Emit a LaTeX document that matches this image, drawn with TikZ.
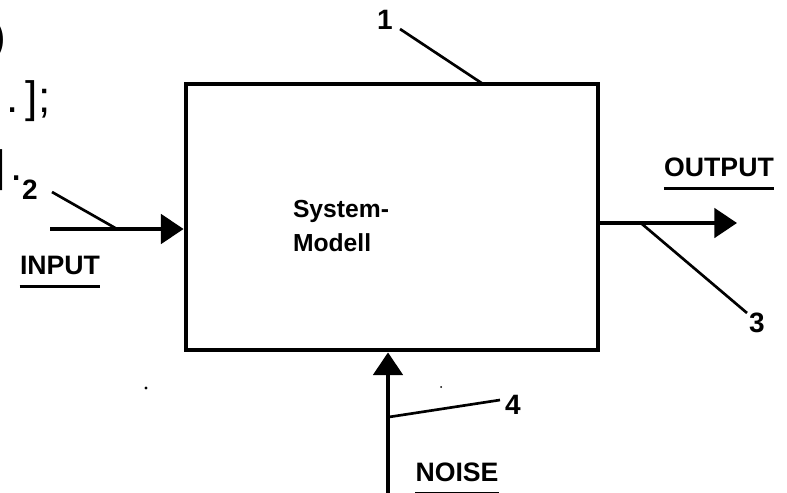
\documentclass[tikz,border=0pt]{standalone}
\usepackage{fontspec}
\setmainfont{Liberation Sans}
\usetikzlibrary{arrows.meta}
\begin{document}
\begin{tikzpicture}[x=0.75pt,y=-0.75pt,
  lbl/.style={font=\bfseries\fontsize{20}{22}\selectfont, inner sep=0pt},
  num/.style={font=\bfseries\fontsize{21}{22}\selectfont, inner sep=0pt},
  frag/.style={font=\fontsize{33}{35}\selectfont, inner sep=0pt},
  flow/.style={line width=3pt, -{Triangle[length=17pt,width=22pt]}},
  leader/.style={line width=2pt},
  uline/.style={line width=2pt},
  speck/.style={fill=black}]
\useasboundingbox (0,0) rectangle (787,492);
% main block
\node[draw, line width=3.6pt, inner sep=0pt, minimum width=309pt, minimum height=199.5pt] (sys) at (392,217) {};
\node[font=\bfseries\fontsize{18.5}{25}\selectfont, align=left, inner sep=0pt] (txt) at (341,226) {System-\\Modell};
% labels
\node[num] (n1) at (385,20) {1};
\node[num] (n2) at (30,190) {2};
\node[num] (n3) at (757,323) {3};
\node[num] (n4) at (513,405) {4};
\node[lbl] (inp) at (60,265) {INPUT};
\node[lbl] (outp) at (719,167) {OUTPUT};
\node[lbl] (noise) at (457,472) {NOISE};
\draw[uline] ([yshift=-9pt]inp.south west) -- ([yshift=-9pt]inp.south east);
\draw[uline] ([yshift=-9pt]outp.south west) -- ([yshift=-9pt]outp.south east);
\draw[uline] ([yshift=-9pt]noise.south west) -- ([yshift=-9pt]noise.south east);
% flows
\coordinate (inS) at (50,229);
\coordinate (outE) at (737,223);
\coordinate (nS) at (388,496);
\draw[flow] (inS) -- (sys.west |- inS);
\draw[flow] (sys.east |- outE) -- (outE);
\draw[flow] (nS) -- (sys.south -| nS);
% leaders
\coordinate (l1a) at (400,29);
\coordinate (l1b) at (483,84);
\coordinate (l2a) at (52,192);
\coordinate (l2b) at (117,229);
\coordinate (l3a) at (642,224);
\coordinate (l3b) at (747,313);
\coordinate (l4a) at (389,417);
\coordinate (l4b) at (500,400);
\draw[leader] (l1a) -- (l1b);
\draw[leader] (l2a) -- (l2b);
\draw[leader] (l3a) -- (l3b);
\draw[leader] (l4a) -- (l4b);
% fragments at left edge
\node[frag, anchor=east] (f1) at (6,40) {)};
\node[frag, anchor=base west] (f2) at (6,112) {.\,];};
\node[frag, anchor=east] (f3) at (6,170) {]};
\node[frag] (f4) at (17,178) {.};
% specks
\fill[speck] (146,388) circle (1.6);
\fill[speck] (441,387) circle (1);
\end{tikzpicture}
\end{document}
